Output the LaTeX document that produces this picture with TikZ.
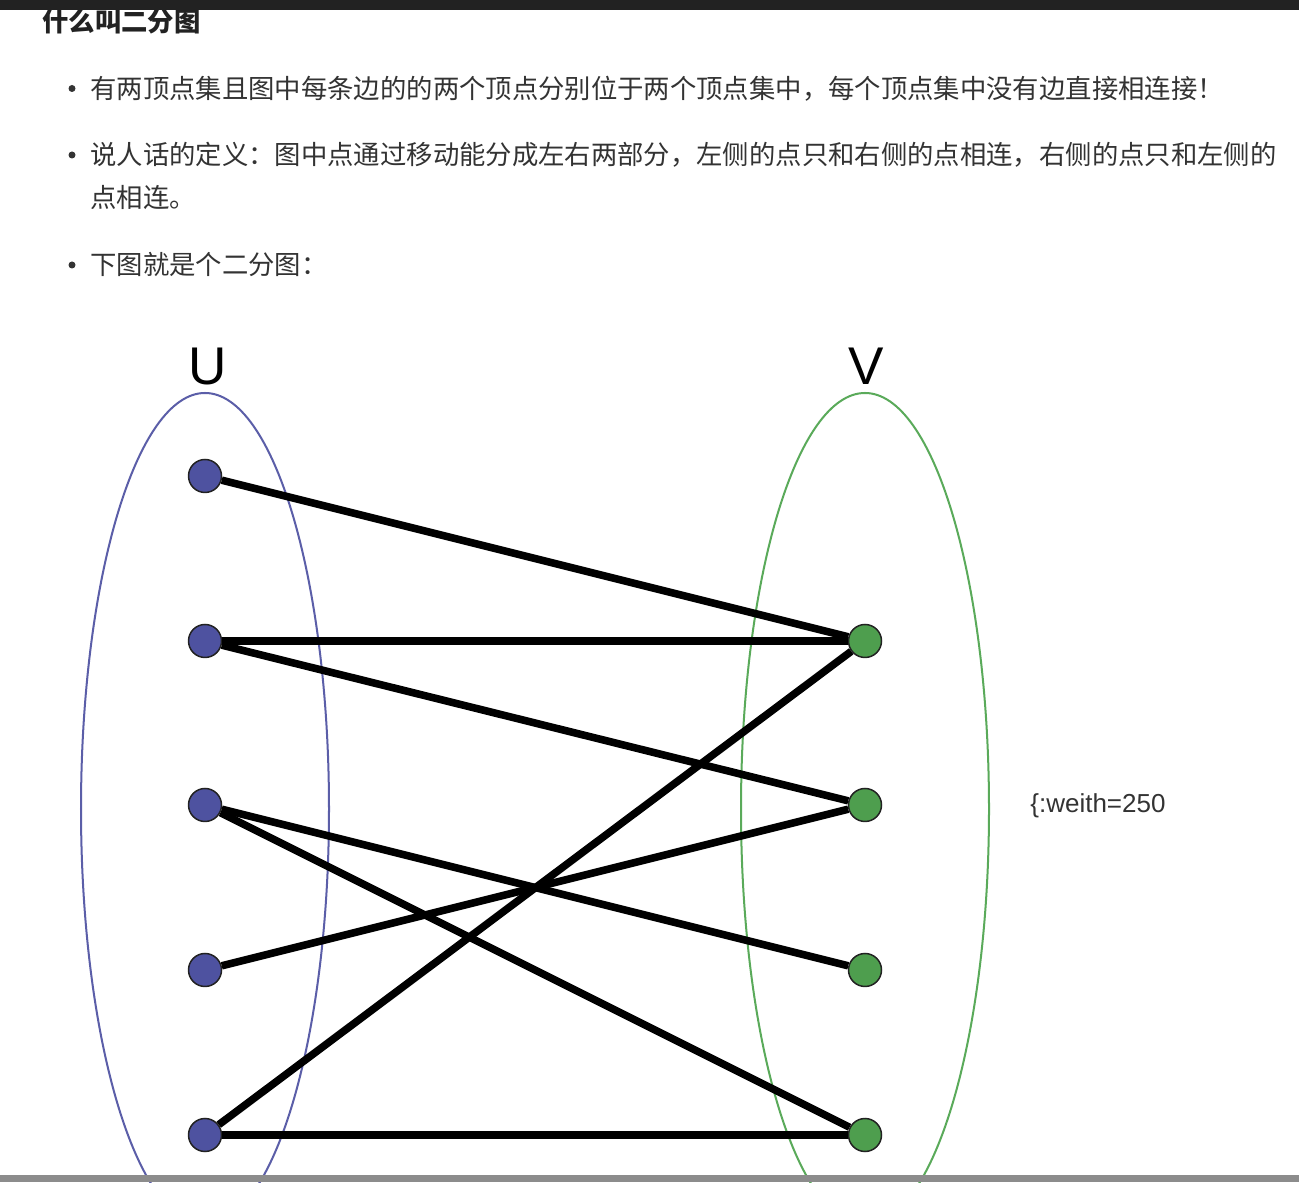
\documentclass[tikz,border=0pt]{standalone}
\usepackage{fontspec}
\usepackage{xcolor}
\setmainfont{Liberation Sans}
\newfontfamily\cjk{Noto Sans CJK SC}
\definecolor{txtgray}{HTML}{333333}
\definecolor{barblack}{HTML}{222222}
\definecolor{bargray}{HTML}{8C8C8C}
\definecolor{uline}{HTML}{5B5EA8}
\definecolor{ufill}{HTML}{4E52A0}
\definecolor{vline}{HTML}{5AAA5A}
\definecolor{vfill}{HTML}{4E9E4E}

\begin{document}
\begin{tikzpicture}[
    txt/.style={anchor=base west,inner sep=0pt,text=txtgray,font=\cjk\fontsize{15.0}{17}\selectfont},
    unode/.style={circle,draw=barblack,line width=0.85pt,fill=ufill,minimum size=0.66cm,inner sep=0pt},
    vnode/.style={circle,draw=barblack,line width=0.85pt,fill=vfill,minimum size=0.66cm,inner sep=0pt},
    edge/.style={line width=4.3pt,black},
    setlabel/.style={anchor=base,inner sep=0pt,font=\fontsize{30.2}{34}\selectfont}
  ]
            \useasboundingbox (0.00,0.00) rectangle (25.98,23.64);
            \fill[white] (0.00,0.00) rectangle (25.98,23.64);

            % text above the graph
            \node[txt,font=\cjk\bfseries\fontsize{15.0}{17}\selectfont,text=barblack] (title) at (0.84,23.01) {什么叫二分图};
            \fill[txtgray] (1.44,21.87) circle (0.07);
            \fill[txtgray] (1.44,20.54) circle (0.07);
            \fill[txtgray] (1.44,18.34) circle (0.07);
            \node[txt] (line1) at (1.80,21.67) {有两顶点集且图中每条边的的两个顶点分别位于两个顶点集中，每个顶点集中没有边直接相连接！};
            \node[txt] (line2) at (1.80,20.34) {说人话的定义：图中点通过移动能分成左右两部分，左侧的点只和右侧的点相连，右侧的点只和左侧的};
            \node[txt] (line2b) at (1.80,19.48) {点相连。};
            \node[txt] (line3) at (1.80,18.14) {下图就是个二分图：};

            % the two vertex sets
            \draw[uline,line width=1.14pt] (4.10,7.46) ellipse (2.48 and 8.32);
            \draw[vline,line width=1.14pt] (17.30,7.46) ellipse (2.48 and 8.32);
            \node[setlabel] (lu) at (4.16,15.94) {U};
            \node[setlabel] (lv) at (17.32,15.94) {V};

            \node[unode] (u1) at ( 4.10,14.12) {};
            \node[unode] (u2) at ( 4.10,10.82) {};
            \node[unode] (u3) at ( 4.10, 7.54) {};
            \node[unode] (u4) at ( 4.10, 4.24) {};
            \node[unode] (u5) at ( 4.10, 0.94) {};
            \node[vnode] (v1) at (17.30,10.82) {};
            \node[vnode] (v2) at (17.30, 7.54) {};
            \node[vnode] (v3) at (17.30, 4.24) {};
            \node[vnode] (v4) at (17.30, 0.94) {};

            \draw[edge] (u1) to (v1);
            \draw[edge] (u2) to (v1);
            \draw[edge] (u2) to (v2);
            \draw[edge] (u3) to (v3);
            \draw[edge] (u3) to (v4);
            \draw[edge] (u4) to (v2);
            \draw[edge] (u5) to (v1);
            \draw[edge] (u5) to (v4);

            \node[anchor=base west,inner sep=0pt,text=txtgray,font=\fontsize{14.8}{17}\selectfont] (weith) at (20.60,7.38) {\{:weith=250};

            % window bars
            \fill[barblack] (0.00,23.43) rectangle (25.98,23.64);
            \fill[bargray] (0.00,0.00) rectangle (25.98,0.14);
          \end{tikzpicture}
\end{document}
